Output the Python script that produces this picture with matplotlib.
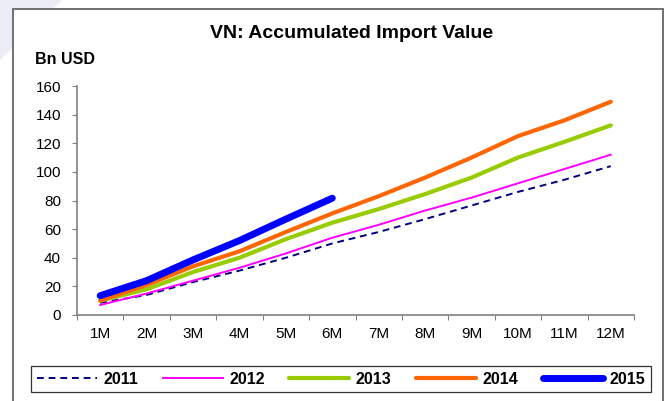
import matplotlib
matplotlib.use("Agg")
import matplotlib.pyplot as plt
from matplotlib.patches import Rectangle, Polygon

months = ["1M", "2M", "3M", "4M", "5M", "6M", "7M", "8M", "9M", "10M", "11M", "12M"]
v2011 = [8.5, 14, 23, 31, 40, 50, 58, 67, 76.5, 86, 94.5, 104]
v2012 = [7, 15, 24, 33, 43, 54, 63, 73, 82, 92, 102, 112]
v2013 = [10, 18, 30, 40, 53, 64.5, 74, 84.5, 96, 110, 121, 132.5]
v2014 = [10, 21, 34, 44.5, 58, 71, 83, 96, 110, 125, 136, 149]
v2015 = [13.5, 24, 38.5, 52, 67, 81.6]
yticks = [0, 20, 40, 60, 80, 100, 120, 140, 160]

plt.rcParams['font.family'] = ['Liberation Sans', 'DejaVu Sans']

W, H = 668, 401
fig = plt.figure(figsize=(W / 100, H / 100), dpi=100)

# background watermark shape in the top-left corner
fig.patches.append(Polygon([(0, 1), (62 / W, 1), (0, 1 - 60 / H)], closed=True,
                           transform=fig.transFigure, facecolor='#ECECF6', edgecolor='none', zorder=0))
# outer frame (bottom edge lies beyond the image)
fig.patches.append(Rectangle((13 / W, -10 / H), (663 - 13) / W, (401 - 9 + 10) / H,
                             transform=fig.transFigure, facecolor='white', edgecolor='#707070', lw=1.4, zorder=1))

ax = fig.add_axes([77 / W, 1 - 315 / H, (634 - 77) / W, (315 - 86) / H])
ax.set_zorder(2)
ax.patch.set_alpha(0)

x = list(range(1, 13))
ax.plot(x, v2011, color='#000080', lw=1.4, ls=(0, (3.5, 2.5)), label='2011')
ax.plot(x, v2012, color='#FF00FF', lw=1.4, label='2012')
ax.plot(x, v2013, color='#99CC00', lw=3.0, label='2013', solid_capstyle='round')
ax.plot(x, v2014, color='#FF6600', lw=3.0, label='2014', solid_capstyle='round')
ax.plot(x[:len(v2015)], v2015, color='#0000FF', lw=5.0, label='2015', solid_capstyle='round')

ax.set_xlim(0.5, 12.5)
ax.set_ylim(0, 160)
ax.set_yticks(yticks)
ax.set_yticklabels([str(t) for t in yticks], fontsize=11)
ax.set_xticks([i + 0.5 for i in range(0, 13)])
ax.set_xticklabels([])
ax.set_xticks(x, minor=True)
ax.set_xticklabels(months, minor=True, fontsize=11)
ax.tick_params(axis='x', which='minor', length=0, pad=9)
ax.tick_params(axis='x', which='major', length=3.5, color='#808080', direction='out')
ax.tick_params(axis='y', length=3.5, color='#808080', direction='out', pad=8)
for s in ['top', 'right']:
    ax.spines[s].set_visible(False)
for s in ['left', 'bottom']:
    ax.spines[s].set_color('#808080')
    ax.spines[s].set_linewidth(1.2)

fig.text(352 / W, 1 - 34 / H, 'VN: Accumulated Import Value', ha='center', va='center',
         fontsize=14, fontweight='bold')
fig.text(35 / W, 1 - 59 / H, 'Bn USD', ha='left', va='center', fontsize=11.5, fontweight='bold')

leg = fig.legend(loc='center', bbox_to_anchor=(341 / W, 1 - 379 / H), ncol=5, frameon=True,
                 fancybox=False, edgecolor='black', prop={'weight': 'bold', 'size': 11.5},
                 handlelength=3.75, columnspacing=1.55, handletextpad=0.4, borderpad=0.35)
leg.get_frame().set_linewidth(0.9)

fig.savefig('out.png', dpi=100)
